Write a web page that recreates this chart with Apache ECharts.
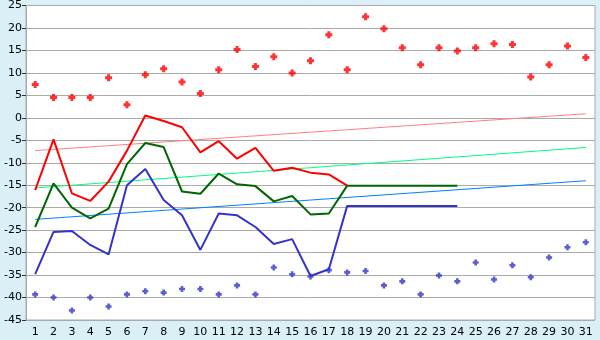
<!DOCTYPE html>
<html><head><meta charset="utf-8">
<script src="https://cdn.jsdelivr.net/npm/echarts@6/dist/echarts.min.js"></script>
<style>html,body{margin:0;padding:0;background:#daf0f6}#c{width:600px;height:340px}</style>
</head><body><div id="c"></div>
<script>
var days = [];
for (var i = 1; i <= 31; i++) days.push(String(i));
var redPoints = [7.4,4.5,4.5,4.5,8.9,2.9,9.6,10.9,8.0,5.4,10.7,15.2,11.4,13.6,10.0,12.7,18.5,10.7,22.5,19.8,15.6,11.8,15.6,14.9,15.6,16.5,16.3,9.1,11.8,16.0,13.4];
var bluePoints = [-39.3,-40.0,-42.9,-40.0,-42.0,-39.3,-38.6,-38.9,-38.1,-38.1,-39.3,-37.3,-39.3,-33.3,-34.8,-35.3,-33.9,-34.4,-34.1,-37.3,-36.4,-39.3,-35.1,-36.4,-32.2,-36.0,-32.8,-35.5,-31.1,-28.8,-27.7];
var redLine = [-16.1,-4.8,-16.8,-18.5,-14.2,-7.3,0.5,-0.7,-2.1,-7.7,-5.2,-9.1,-6.7,-11.8,-11.1,-12.2,-12.6,-15.1];
var greenLine = [-24.3,-14.6,-20.0,-22.4,-20.2,-10.3,-5.6,-6.5,-16.4,-16.9,-12.4,-14.8,-15.2,-18.6,-17.4,-21.5,-21.3,-15.1,-15.1,-15.1,-15.1,-15.1,-15.1,-15.1];
var blueLine = [-34.8,-25.4,-25.2,-28.3,-30.4,-15.0,-11.4,-18.3,-21.7,-29.4,-21.3,-21.7,-24.3,-28.1,-27.0,-35.2,-33.7,-19.6,-19.6,-19.6,-19.6,-19.6,-19.6,-19.6];
var redTrendEnds = [-7.3, 0.9];
var greenTrendEnds = [-15.6, -6.6];
var blueTrendEnds = [-22.6, -14.0];
var yTicks = {min: -45, max: 25, interval: 5};

function trend(ends) {
  var d = [];
  for (var i = 0; i < days.length; i++) d.push(null);
  d[0] = ends[0]; d[days.length - 1] = ends[1];
  return d;
}
var plus = 'path://M2,0H5V2H7V5H5V7H2V5H0V2H2Z';
var chart = echarts.init(document.getElementById('c'), null, {renderer: 'canvas'});
chart.setOption({
  animation: false,
  backgroundColor: '#daf0f6',
  grid: {left: 26, right: 5, top: 5, bottom: 20, show: true, backgroundColor: '#ffffff', borderColor: '#aaaaaa', borderWidth: 1},
  xAxis: {
    type: 'category', data: days, boundaryGap: true,
    axisLine: {lineStyle: {color: '#aaaaaa'}},
    axisTick: {alignWithLabel: true, length: 5, lineStyle: {color: '#333333'}},
    axisLabel: {color: '#000', fontFamily: 'DejaVu Sans', fontSize: 11, margin: 7, interval: 0},
    splitLine: {show: false}
  },
  yAxis: {
    type: 'value', min: yTicks.min, max: yTicks.max, interval: yTicks.interval,
    axisLine: {show: true, lineStyle: {color: '#aaaaaa'}},
    axisTick: {show: true, length: 4, lineStyle: {color: '#333333'}},
    axisLabel: {color: '#000', fontFamily: 'DejaVu Sans', fontSize: 11, margin: 4},
    splitLine: {lineStyle: {color: '#aaaaaa', width: 1}}
  },
  series: [
    {type: 'line', data: trend(redTrendEnds), connectNulls: true, symbol: 'none', lineStyle: {color: '#ff8080', width: 1}},
    {type: 'line', data: trend(greenTrendEnds), connectNulls: true, symbol: 'none', lineStyle: {color: '#00ff80', width: 1}},
    {type: 'line', data: trend(blueTrendEnds), connectNulls: true, symbol: 'none', lineStyle: {color: '#0080ff', width: 1}},
    {type: 'line', data: redLine, symbol: 'none', lineStyle: {color: '#ff0000', width: 2}},
    {type: 'line', data: greenLine, symbol: 'none', lineStyle: {color: '#006600', width: 2}},
    {type: 'line', data: blueLine, symbol: 'none', lineStyle: {color: '#3333cc', width: 2}},
    {type: 'scatter', data: redPoints, symbol: plus, symbolSize: 7, itemStyle: {color: '#ff0000'}},
    {type: 'scatter', data: bluePoints, symbol: plus, symbolSize: 6, itemStyle: {color: '#3333cc'}}
  ]
});
</script></body></html>
